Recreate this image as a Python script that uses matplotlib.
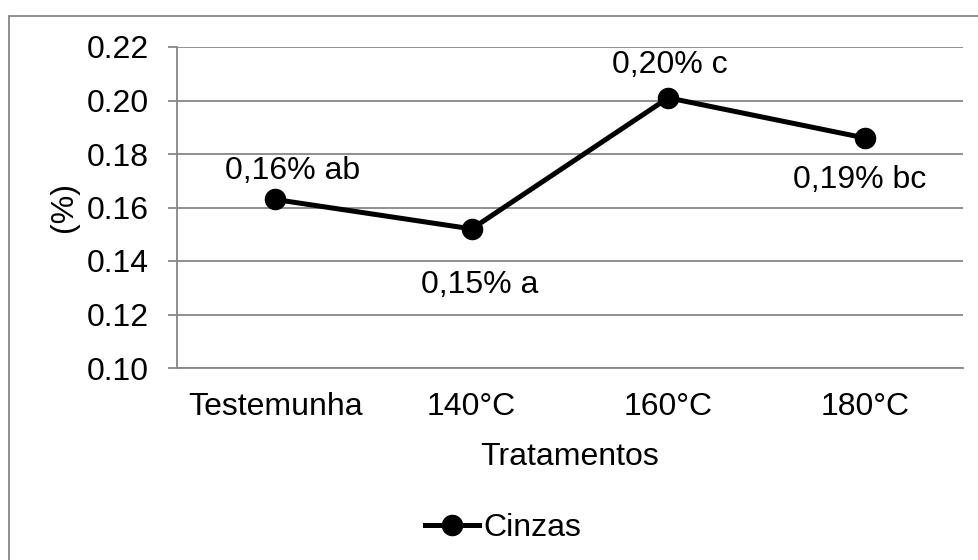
import matplotlib
matplotlib.use("Agg")
import matplotlib.pyplot as plt
from matplotlib.patches import Rectangle

plt.rcParams['font.family'] = ['Liberation Sans', 'DejaVu Sans']

categories = ["Testemunha", "140°C", "160°C", "180°C"]
values = [0.163, 0.152, 0.201, 0.186]
point_labels = ["0,16% ab", "0,15% a", "0,20% c", "0,19% bc"]
label_offsets_px = [(17, 28), (8, -56), (2, 33), (-5, -42)]
yticks = [0.10, 0.12, 0.14, 0.16, 0.18, 0.20, 0.22]
series_name = "Cinzas"

W, H = 979, 560
fig = plt.figure(figsize=(W / 100, H / 100), dpi=100)
grid_c = "#868686"
fs = 23

left, right, top, bottom = 177, 963, 47, 368
ax = fig.add_axes([left / W, 1 - bottom / H, (right - left) / W, (bottom - top) / H])

x = list(range(len(categories)))
ax.plot(x, values, color="black", lw=3.6, marker="o", markersize=14.5,
        label=series_name, zorder=3, clip_on=False)

for xi, v, lab, (dx, dy) in zip(x, values, point_labels, label_offsets_px):
    ax.annotate(lab, (xi, v), xytext=(dx, dy), textcoords="offset pixels",
                ha="center", va="center", fontsize=fs, color="black")

ax.set_xlim(-0.5, len(categories) - 0.5)
ax.set_ylim(yticks[0], yticks[-1])
ax.set_yticks(yticks)
ax.set_yticklabels([f"{t:.2f}" for t in yticks])
ax.set_xticks(x)
ax.set_xticklabels(categories)
ax.tick_params(axis="y", length=6.5, width=1.3, color=grid_c, labelsize=fs, pad=14)
ax.tick_params(axis="x", length=0, labelsize=fs, pad=17)

ax.grid(axis="y", color=grid_c, lw=1.3)
ax.set_axisbelow(True)
for s in ["top", "right"]:
    ax.spines[s].set_visible(False)
for s in ["left", "bottom"]:
    ax.spines[s].set_color(grid_c)
    ax.spines[s].set_linewidth(1.3)

fig.text(64 / W, 1 - 207 / H, "(%)", rotation=90, ha="center", va="center", fontsize=fs)
fig.text(570 / W, 1 - 457 / H, "Tratamentos", ha="center", va="center", fontsize=fs)

leg = fig.legend(loc="center", bbox_to_anchor=(503 / W, 1 - 528 / H), frameon=False,
                 fontsize=fs, handlelength=1.7, handletextpad=0.15, borderpad=0,
                 borderaxespad=0)

fig.patches.append(Rectangle((9 / W, -0.2), 1.5, (1 - 15.7 / H) + 0.2,
                             transform=fig.transFigure, fill=False,
                             edgecolor=grid_c, lw=1.3))

fig.savefig("out.png", dpi=100)
